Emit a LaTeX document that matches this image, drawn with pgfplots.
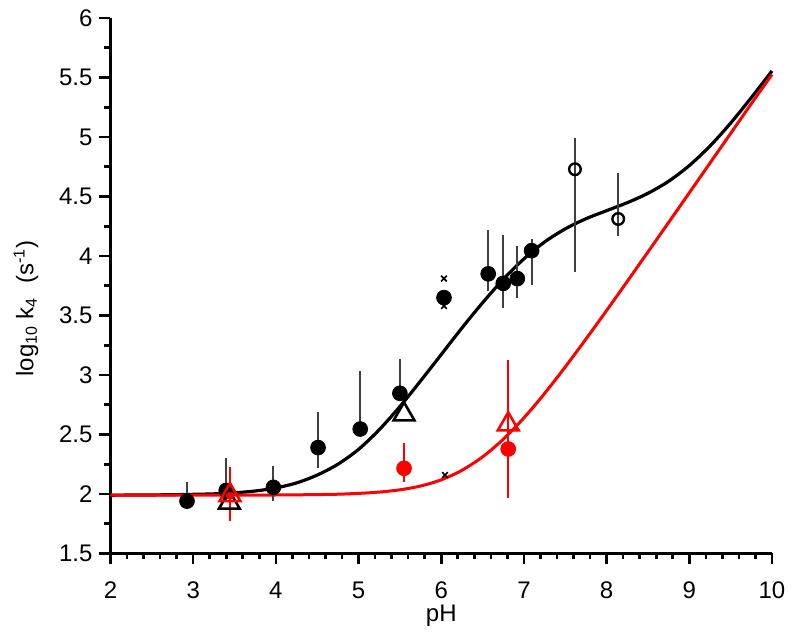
\documentclass[border=0pt]{standalone}
\usepackage{fontspec}
\setmainfont{Liberation Sans}
\usepackage{pgfplots}
\pgfplotsset{compat=1.18}
\begin{document}
\begin{tikzpicture}
\begin{axis}[
  scale only axis, width=330.75pt, height=267.75pt,
  xmin=2, xmax=10, ymin=1.5, ymax=6,
  axis lines=left,
  axis line style={-, line width=1.5pt},
  xtick={2,3,4,5,6,7,8,9,10},
  ytick={1.5,2,2.5,3,3.5,4,4.5,5,5.5,6},
  minor x tick num=4, minor y tick num=1,
  tick align=outside,
  major tick length=5.5pt, minor tick length=3pt,
  every tick/.style={black, line width=1.3pt},
  tick label style={font=\fontsize{12}{14}\selectfont},
  xticklabel style={yshift=-5pt},
  /pgf/number format/assume math mode=true,
  xlabel={pH},
  ylabel={log\textsubscript{10} k\textsubscript{4}\ \ (s\textsuperscript{-1})},
  every axis x label/.style={at={(axis description cs:0.5,0)}, anchor=center, yshift=-31pt, font=\fontsize{12}{14}\selectfont},
  every axis y label/.style={at={(axis description cs:0,0.5)}, xshift=-42.25pt, yshift=-11.4pt, rotate=90, anchor=center, font=\fontsize{12}{14}\selectfont},
  clip=false,
]
\coordinate (ll) at (axis cs:2,1.5);
% fitted curves
\addplot[black, line width=1.6pt, smooth] coordinates {
 (2,1.990) (2.25,1.991) (2.5,1.992) (2.75,1.994) (3,1.997) (3.25,2.001) (3.5,2.010) (3.75,2.025)
 (4,2.051) (4.25,2.093) (4.5,2.159) (4.75,2.250) (5,2.375) (5.25,2.540) (5.5,2.735) (5.75,2.950)
 (6,3.172) (6.25,3.395) (6.5,3.607) (6.75,3.804) (7,3.976) (7.25,4.118) (7.5,4.228) (7.75,4.313)
 (8,4.381) (8.25,4.448) (8.5,4.527) (8.75,4.628) (9,4.760) (9.25,4.924) (9.5,5.117) (9.75,5.331) (10,5.555)
};
\addplot[red, line width=1.5pt, smooth] coordinates {
 (2,1.990) (2.5,1.990) (3,1.990) (3.5,1.990) (3.75,1.991) (4,1.9915) (4.25,1.993) (4.5,1.995)
 (4.75,1.998) (5,2.005) (5.25,2.016) (5.5,2.035) (5.75,2.067) (6,2.119) (6.25,2.199)
 (6.5,2.312) (6.75,2.460) (7,2.640) (7.25,2.845) (7.5,3.068) (7.75,3.302) (8,3.542)
 (8.25,3.787) (8.5,4.034) (8.75,4.282) (9,4.531) (9.25,4.781) (9.5,5.030) (9.75,5.280) (10,5.525)
};
% black filled circles with error bars
\addplot[only marks, mark=*, mark size=3.7pt, black, mark options={fill=black},
  error bars/.cd, y dir=both, y explicit, error mark=none,
  error bar style={line width=1pt, black!75}] coordinates {
 (2.925,1.940) += (0,0.16) -= (0,0.06)
 (3.40,2.030) += (0,0.27) -= (0,0.08)
 (3.97,2.056) += (0,0.18) -= (0,0.116)
 (4.51,2.390) += (0,0.30) -= (0,0.17)
 (5.02,2.546) += (0,0.49) -= (0,0.05)
 (5.50,2.846) += (0,0.29) -= (0,0.05)
 (6.568,3.850) += (0,0.37) -= (0,0.14)
 (6.75,3.770) += (0,0.41) -= (0,0.21)
 (6.92,3.810) += (0,0.27) -= (0,0.165)
 (7.093,4.045) += (0,0.10) -= (0,0.29)
};
\addplot[only marks, mark=*, mark size=3.7pt, black, mark options={fill=black}] coordinates {(6.033,3.650)};
% open circles
\addplot[only marks, mark=o, mark size=2.9pt, black, mark options={line width=1.2pt, fill=white},
  error bars/.cd, y dir=both, y explicit, error mark=none,
  error bar style={line width=1pt, black!75}] coordinates {
 (7.617,4.729) += (0,0.26) -= (0,0.86)
 (8.14,4.311) += (0,0.39) -= (0,0.14)
};
% small crosses
\addplot[only marks, mark=x, mark size=2pt, black, mark options={line width=0.8pt}] coordinates {
 (6.033,3.810) (6.033,3.580) (6.045,2.160)
};
% red filled circles
\addplot[only marks, mark=*, mark size=3.7pt, red, mark options={fill=red},
  error bars/.cd, y dir=both, y explicit, error mark=none,
  error bar style={line width=1pt, red}] coordinates {
 (5.55,2.216) += (0,0.21) -= (0,0.116)
 (6.81,2.378) += (0,0.75) -= (0,0.41)
};
% black open triangles
\addplot[only marks, mark=triangle, mark size=6pt, black, mark options={line width=1.3pt, fill=white}] coordinates {
 (3.437,1.927) (5.55,2.669)
};
% red open triangles
\addplot[only marks, mark=triangle, mark size=6pt, red, mark options={line width=1.3pt, fill=white},
  error bars/.cd, y dir=both, y explicit, error mark=none,
  error bar style={line width=1pt, red}] coordinates {
 (3.445,1.990) += (0,0.24) -= (0,0.22)
 (6.81,2.585)
};
\addplot[only marks, mark=*, mark size=1.8pt, red, mark options={fill=red}] coordinates {(3.445,1.985)};
\end{axis}
\pgfresetboundingbox
\path[use as bounding box] (ll) ++(-55.25pt,-43.25pt) rectangle ++(400pt,320pt);
\end{tikzpicture}
\end{document}
